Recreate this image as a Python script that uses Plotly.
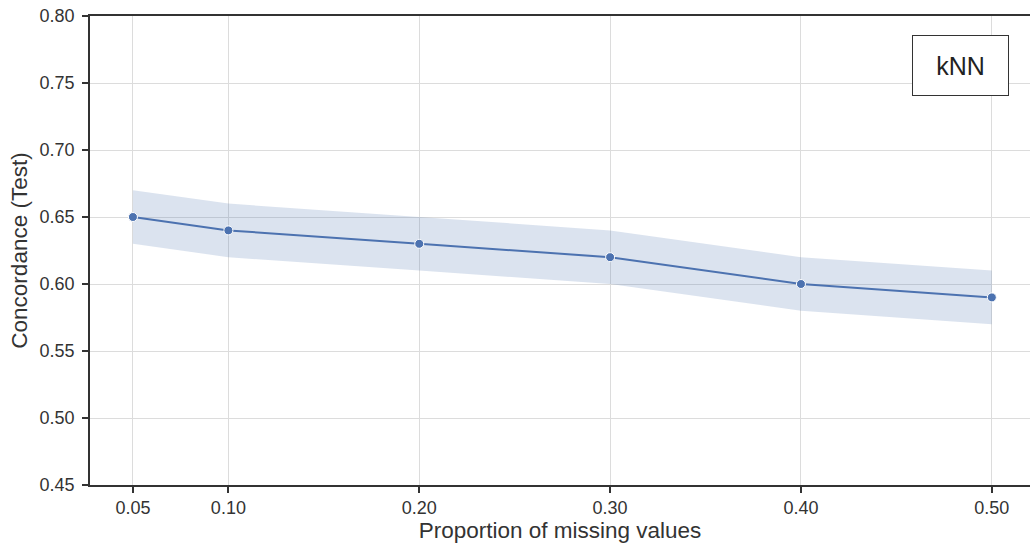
import plotly.graph_objects as go

x = [0.05, 0.10, 0.20, 0.30, 0.40, 0.50]
mean = [0.65, 0.64, 0.63, 0.62, 0.60, 0.59]
lower = [0.63, 0.62, 0.61, 0.60, 0.58, 0.57]
upper = [0.67, 0.66, 0.65, 0.64, 0.62, 0.61]
xticks = [0.05, 0.10, 0.20, 0.30, 0.40, 0.50]
xticklabels = ["0.05", "0.10", "0.20", "0.30", "0.40", "0.50"]
yticks = [0.45, 0.50, 0.55, 0.60, 0.65, 0.70, 0.75, 0.80]
label = "kNN"

blue = "#4c72b0"
fig = go.Figure()
fig.add_trace(go.Scatter(x=x, y=upper, mode="lines", line=dict(width=0), hoverinfo="skip", showlegend=False))
fig.add_trace(go.Scatter(x=x, y=lower, mode="lines", line=dict(width=0), fill="tonexty",
                         fillcolor="rgba(76,114,176,0.2)", hoverinfo="skip", showlegend=False))
fig.add_trace(go.Scatter(x=x, y=mean, mode="lines+markers", line=dict(color=blue, width=2),
                         marker=dict(size=9, color=blue, line=dict(color="white", width=1)),
                         showlegend=False))

fig.add_annotation(text=label, xref="paper", yref="paper", x=0.978, y=0.96, xanchor="right", yanchor="top",
                   showarrow=False, font=dict(size=25, color="#222"), bordercolor="#333", borderwidth=1,
                   borderpad=14, bgcolor="white", width=67, height=31)

axis_font = dict(family="Liberation Sans, Arial, sans-serif", size=18, color="#333")
fig.update_layout(
    width=1030, height=548,
    margin=dict(l=90, r=0, t=16, b=63),
    paper_bgcolor="white", plot_bgcolor="white",
    font=dict(family="Liberation Sans, Arial, sans-serif", color="#333"),
    xaxis=dict(range=[0.0275, 0.52], tickvals=xticks, ticktext=xticklabels, tickfont=axis_font,
               showgrid=True, gridcolor="#dcdcdc", gridwidth=1, zeroline=False,
               showline=True, linecolor="#333", linewidth=1.5, mirror=True,
               ticks="outside", ticklen=6, tickcolor="#333", tickwidth=1.5,
               title=dict(text="Proportion of missing values", font=dict(size=22.5, color="#333"), standoff=5)),
    yaxis=dict(range=[0.45, 0.80], tickvals=yticks, tickformat=".2f", tickfont=axis_font,
               showgrid=True, gridcolor="#dcdcdc", gridwidth=1, zeroline=False,
               showline=True, linecolor="#333", linewidth=1.5, ticklabelstandoff=4,
               ticks="outside", ticklen=6, tickcolor="#333", tickwidth=1.5,
               title=dict(text="Concordance (Test)", font=dict(size=22.5, color="#333"), standoff=6)),
)
fig.write_html("out.html")
